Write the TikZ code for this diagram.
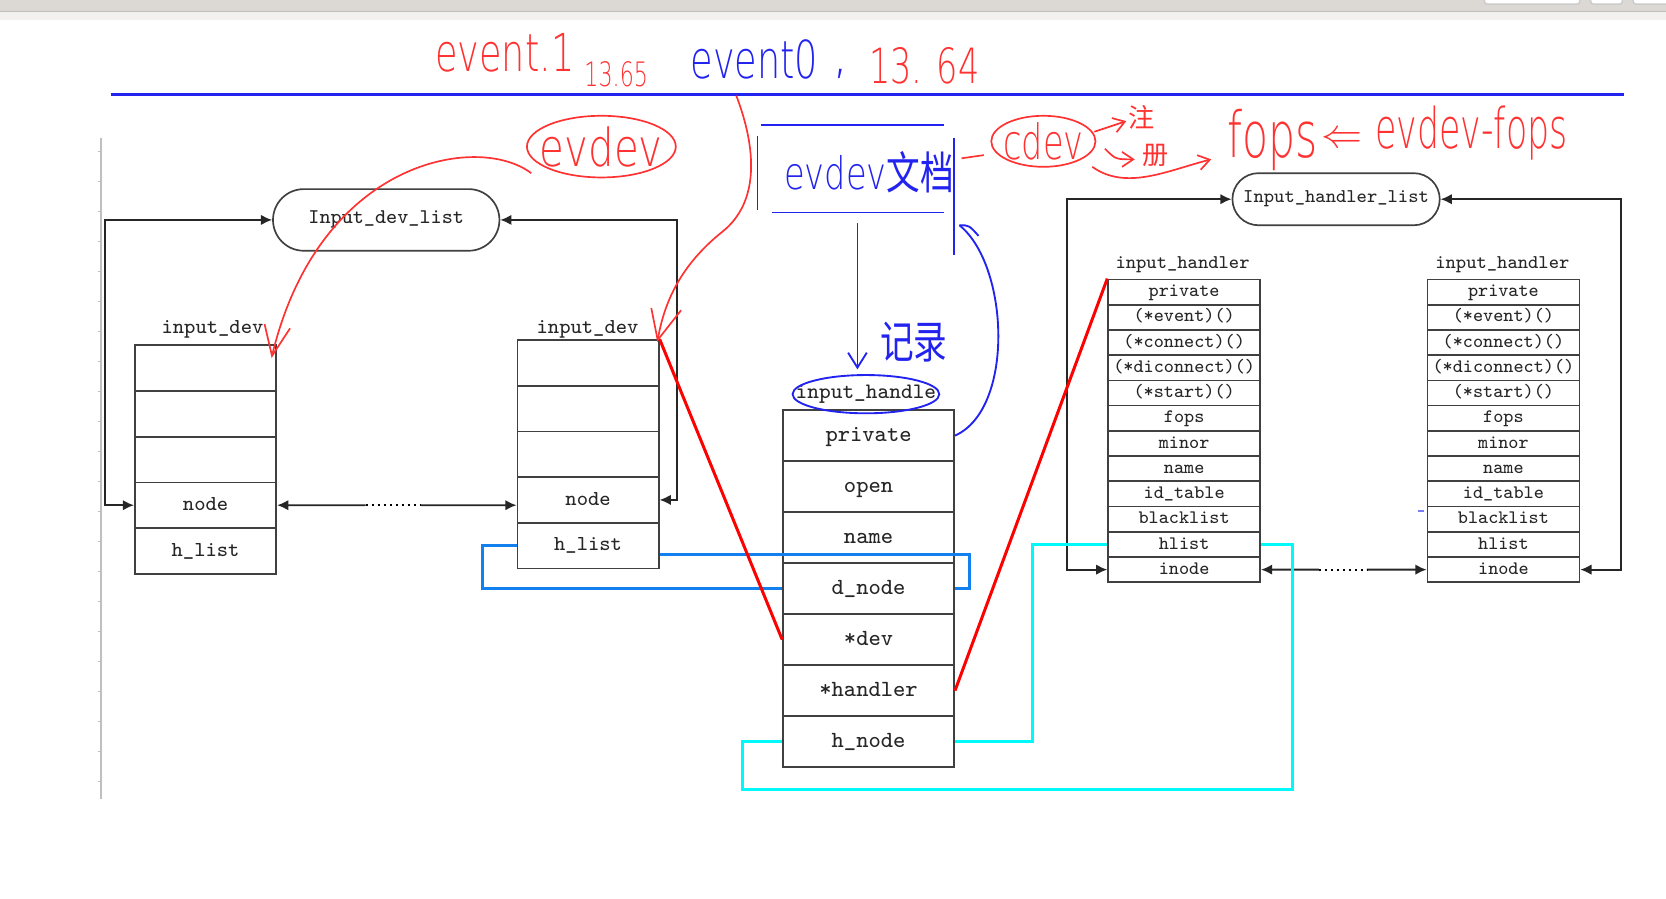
\documentclass[tikz,border=0pt]{standalone}
\usepackage{fontspec}
\usepackage{graphicx}
\newfontfamily\cjk{Noto Sans CJK SC}
\newfontfamily\hand{DejaVu Sans ExtraLight}
\usetikzlibrary{positioning,calc,arrows.meta}

\definecolor{bargray}{RGB}{220,217,212}
\definecolor{barlight}{RGB}{242,241,239}
\definecolor{penred}{RGB}{255,50,50}
\definecolor{penblue}{RGB}{35,35,240}
\definecolor{dlink}{RGB}{18,128,238}
\definecolor{hlink}{RGB}{0,250,250}

\tikzset{
  box/.style={draw=black!75,line width=0.45pt,inner sep=0pt,text=black!85},
  devcell/.style={box,minimum width=1.33cm,minimum height=0.43cm,text height=3.7pt,text depth=0.9pt,
    font=\ttfamily\fontsize{5.7}{6}\selectfont},
  hdlcell/.style={box,minimum width=1.61cm,minimum height=0.48cm,text height=4pt,text depth=1pt,
    font=\ttfamily\fontsize{6.2}{7}\selectfont},
  hdrcell/.style={box,minimum width=1.43cm,minimum height=0.2375cm,text height=3.3pt,text depth=0.8pt,
    font=\ttfamily\fontsize{5.1}{5.5}\selectfont},
  listnode/.style={box,font=\ttfamily\fontsize{5.6}{6}\selectfont},
  title/.style={inner sep=0pt,text=black!85,font=\ttfamily\fontsize{5.7}{6}\selectfont},
  tip/.style={line width=0.5pt,black!85,-{Latex[length=3pt,width=2.8pt]}},
  both/.style={line width=0.5pt,black!85,{Latex[length=3pt,width=2.8pt]}-{Latex[length=3pt,width=2.8pt]}},
  pen/.style={inner sep=0pt,font=\hand\fontsize{14}{14}\selectfont},
  inkred/.style={penred,line width=0.45pt},
  inkblue/.style={penblue,line width=0.5pt},
  barb/.style={-{Straight Barb[length=3pt,width=4pt]}}
}

\begin{document}
\begin{tikzpicture}[x=0.01cm,y=-0.01cm]
\useasboundingbox (0,0) rectangle (1568,846);
\fill[white] (0,0) rectangle (1568,846);
\fill[bargray] (0,0) rectangle (1568,10.5);
\fill[barlight] (0,10.5) rectangle (1568,19);
\draw[black!25,line width=0.3pt] (0,10.8) -- (1568,10.8);
\foreach \a/\b in {1397/1487,1497/1527,1537/1575}
  \draw[fill=white,draw=black!20,rounded corners=0.03cm] (\a,-5) rectangle (\b,4);
\draw[black!25,line width=0.4pt] (95,130) -- (95,752);
\foreach \k in {0,...,21}
  \draw[black!25,line width=0.3pt] (92,{143+28.2*\k}) -- (95,{143+28.2*\k});
\draw[penblue,line width=0.6pt] (104,89) -- (1528,89);

% input_dev side
\node[listnode,minimum width=2.13cm,minimum height=0.58cm,rounded corners=0.29cm] (idlist) at (363.5,207) {Input\_dev\_list};
\node[title] (ta) at (200,310) {input\_dev};
\foreach \t [count=\i] in {{},{},{},node,h\_list}
  \node[devcell] (a\i) at (193.5,{346.5+43*(\i-1)}) {\t};
\node[title] (tb) at (553,310) {input\_dev};
\foreach \t [count=\i] in {{},{},{},node,h\_list}
  \node[devcell] (b\i) at (553.5,{341.5+43*(\i-1)}) {\t};

% input_handle
\node[title,font=\ttfamily\fontsize{5.9}{6}\selectfont] (tc) at (815,371) {input\_handle};
\foreach \t [count=\i] in {private,open,name,d\_node,*dev,*handler,h\_node}
  \node[hdlcell] (c\i) at (817.5,{410+48*(\i-1)}) {\t};

% input_handler side
\node[listnode,minimum width=1.95cm,minimum height=0.49cm,rounded corners=0.245cm,font=\ttfamily\fontsize{5.2}{6}\selectfont] (hlist) at (1257.5,187.5) {Input\_handler\_list};
\node[title,font=\ttfamily\fontsize{5.2}{6}\selectfont] (th) at (1113,249) {input\_handler};
\node[title,font=\ttfamily\fontsize{5.2}{6}\selectfont] (tg) at (1414,249) {input\_handler};
\foreach \t [count=\i] in {private,(*event)(),(*connect)(),(*diconnect)(),(*start)(),fops,minor,name,id\_table,blacklist,hlist,inode} {
  \node[hdrcell] (h\i) at (1114.5,{274.875+23.75*(\i-1)}) {\t};
  \node[hdrcell] (g\i) at (1415,{274.875+23.75*(\i-1)}) {\t};
}

\draw[both] (idlist.west) -| ($(a4.west)+(-27,0)$) -- (a4.west);
\draw[both] (idlist.east) -| ($(b4.east)+(16,0)$) -- (b4.east);
\coordinate (ra) at (a4.east -| b4.west);
\draw[tip] ($(a4.east)!0.37!(ra)$) -- (a4.east);
\draw[tip] ($(a4.east)!0.6!(ra)$) -- (ra);
\draw[densely dotted,line width=0.6pt] ($(a4.east)!0.37!(ra)$) -- ($(a4.east)!0.6!(ra)$);

\draw[both] (hlist.west) -| ($(h12.west)+(-38,0)$) -- (h12.west);
\draw[both] (hlist.east) -| ($(g12.east)+(38,0)$) -- (g12.east);
\draw[tip] ($(h12.east)!0.35!(g12.west)$) -- (h12.east);
\draw[tip] ($(h12.east)!0.64!(g12.west)$) -- (g12.west);
\draw[densely dotted,line width=0.6pt] ($(h12.east)!0.35!(g12.west)$) -- ($(h12.east)!0.64!(g12.west)$);

\draw[dlink,line width=0.8pt] (b5.west) -- ++(-32,0) |- (c4.west);
\draw[dlink,line width=0.8pt] ($(b5.east)+(0,8.5)$) -| ($(c4.east)+(14,0)$) -- (c4.east);
\draw[red,line width=0.8pt] (b1.north east) -- (c5.west);
\draw[red,line width=0.8pt] (c6.east) -- (h1.north west);
\draw[hlink,line width=0.8pt] (h11.west) -- ++(-70,0) |- (c7.east);
\draw[hlink,line width=0.8pt] (h11.east) -- ++(30,0) |- ($(c7.west)+(-37,45)$) |- (c7.west);

% handwritten notes
\node[pen,penred] (ev1) at (475,50) {\scalebox{0.7}[1]{event.1}};
\node[pen,penred,font=\hand\fontsize{9}{9}\selectfont] (mn1) at (580,70) {\scalebox{0.66}[1]{13.65}};
\node[pen,penblue] (ev0) at (710,56) {\scalebox{0.7}[1]{event0}};
\node[pen,penblue] (cm) at (791,70) {,};
\node[pen,penred,font=\hand\fontsize{13}{13}\selectfont] (mn0) at (870,62) {\scalebox{0.69}[1]{13. 64}};

\node[pen,penred] (evd) at (566,138) {\scalebox{0.77}[1]{evdev}};
\draw[inkred] (evd) ellipse [x radius=0.70cm,y radius=0.29cm];
\draw[inkred] (500,163) .. controls (450,125) and (300,150) .. (256,335);
\draw[inkred] (249,305) -- (256,335) -- (273,309);
\draw[inkred] (693,90) .. controls (712,140) and (715,190) .. (680,218) .. controls (640,250) and (625,285) .. (619,320);
\draw[inkred] (613,290) -- (619,320) -- (641,292);

\node[pen,penblue,font=\hand\fontsize{12}{12}\selectfont] (doc) at (818,162) {\scalebox{0.75}[1]{evdev{\cjk\fontsize{12}{12}\selectfont 文档}}};
\draw[inkblue] (716,118) -- (888,118);
\draw[inkblue] (713,128) -- (713,198);
\draw[inkblue] (727,200) -- (888,200);
\draw[inkblue] (898,130) -- (898,240);
\coordinate (docbot) at (807,210);
\draw[inkblue,-{Straight Barb[length=4pt,width=5pt]}] (docbot) -- ($(tc.north -| docbot)+(0,-14)$);
\node[penblue,inner sep=0pt,font=\cjk\fontsize{12}{12}\selectfont] (rec) at (860,322) {\scalebox{0.75}[1]{记录}};
\draw[inkblue] (tc) ellipse [x radius=0.69cm,y radius=0.18cm];
\draw[inkblue] (c1.east) .. controls (955,385) and (950,250) .. (903,212);
\draw[inkblue] (903,212) .. controls (912,212) .. (921,222);

\node[pen,penred,font=\hand\fontsize{13}{13}\selectfont] (cdev) at (982,133) {\scalebox{0.69}[1]{cdev}};
\draw[inkred] (cdev) ellipse [x radius=0.49cm,y radius=0.24cm];
\draw[inkred] (905,149) -- (926,146);
\node[penred,inner sep=0pt,font=\cjk\fontsize{7}{7}\selectfont] (zhu) at (1074,110) {注};
\node[penred,inner sep=0pt,font=\cjk\fontsize{7}{7}\selectfont] (ce) at (1088,146) {册};
\draw[inkred,barb] (1030,124) -- (1060,114);
\draw[inkred,barb] (1040,140) .. controls (1050,150) .. (1068,150);
\draw[inkred,barb] (1028,157) .. controls (1060,180) and (1100,160) .. (1140,150);
\node[pen,penred,font=\hand\fontsize{17}{17}\selectfont] (fops) at (1198,132) {\scalebox{0.67}[1]{fops}};
\node[penred,inner sep=0pt,font=\fontsize{11}{11}\selectfont] (larr) at (1263,132) {$\Leftarrow$};
\node[pen,penred,font=\hand\fontsize{15}{15}\selectfont] (efops) at (1385,125) {\scalebox{0.62}[1]{evdev-fops}};
\draw[penblue!60,line width=0.4pt] (1335,481) -- (1340,481);
\end{tikzpicture}
\end{document}
